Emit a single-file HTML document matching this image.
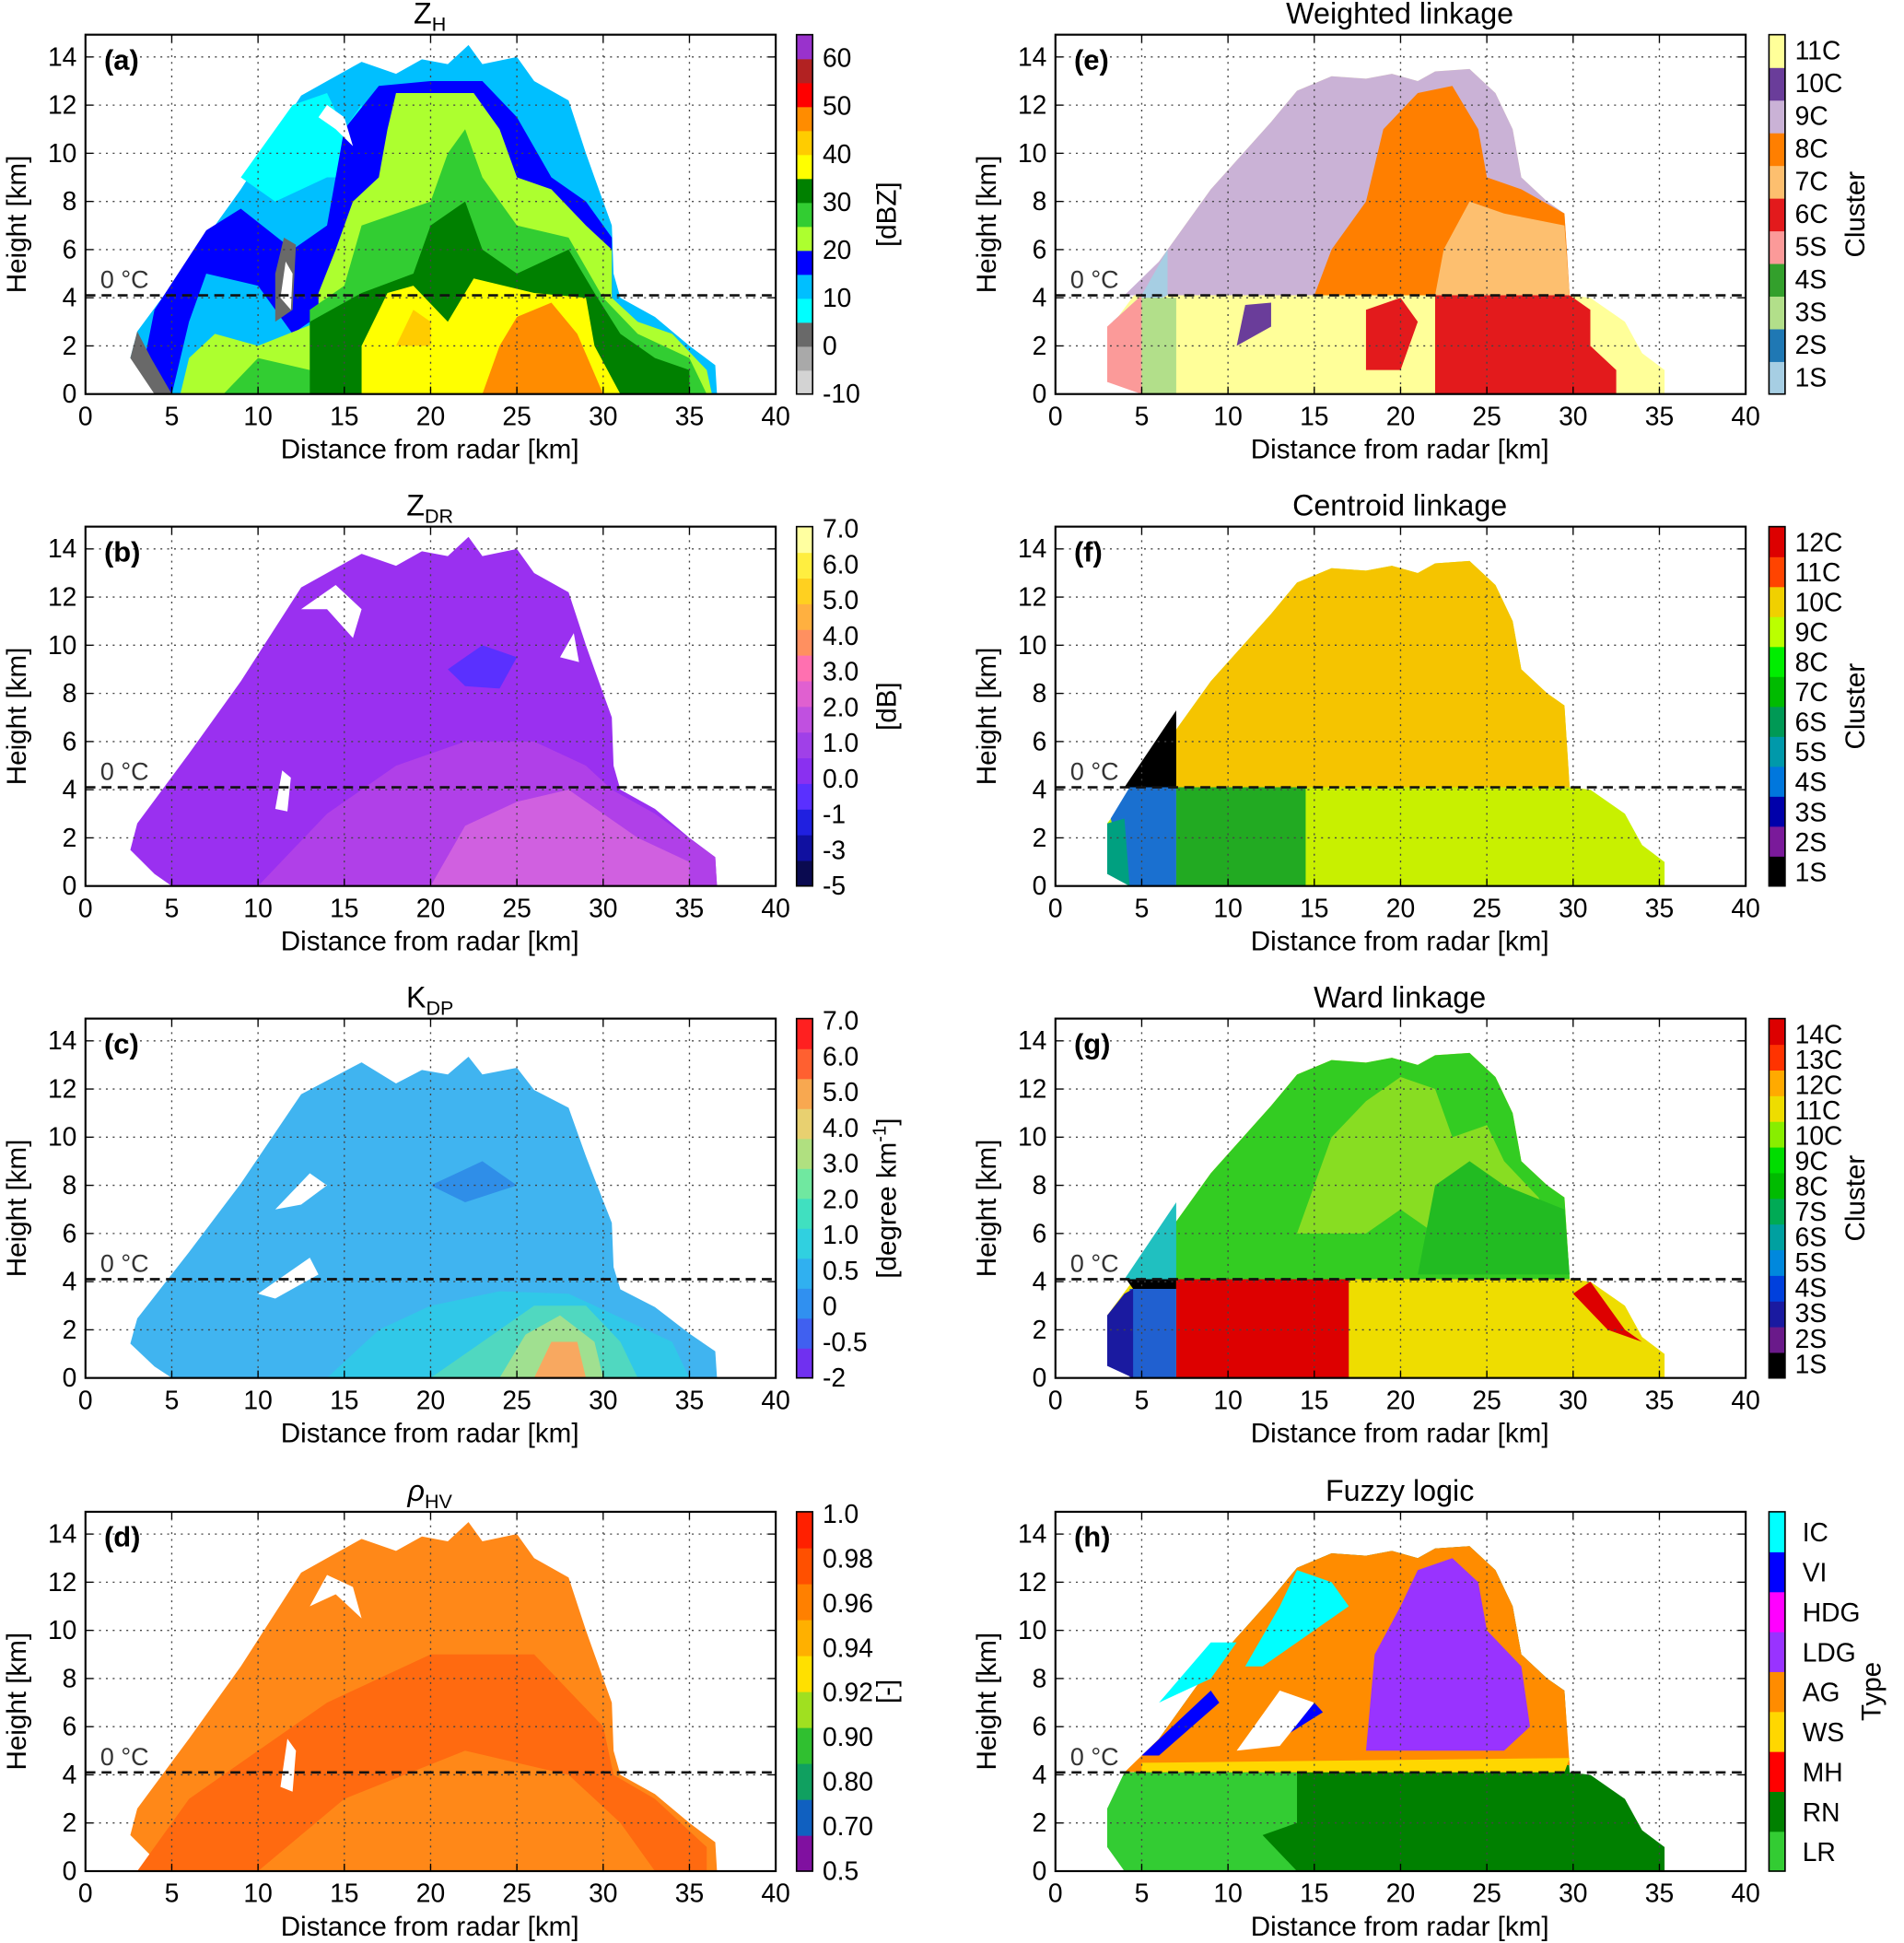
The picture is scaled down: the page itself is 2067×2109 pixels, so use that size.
<!DOCTYPE html>
<html><head><meta charset="utf-8"><style>
html,body{margin:0;padding:0;background:#fff;}
svg{display:block;font-family:"Liberation Sans","DejaVu Sans",sans-serif;}
</style></head><body>
<svg id="fig" xmlns="http://www.w3.org/2000/svg" width="2067" height="2109" viewBox="0 0 1537 1568" preserveAspectRatio="none"></svg>
<script>
// ---------- data ----------
const xTicks=[0,5,10,15,20,25,30,35,40];
const yTicks=[0,2,4,6,8,10,12,14];
const freezingLevel=4.1;
const envLeft=[[2.6,1.5],[3,2.6],[6,5.5],[9,8.5],[12.5,12.4],[14,13],[16,13.8],[18,13.3],[19.5,13.9],[21,13.7],[22.2,14.5],[23,13.7],[25,14],[26,13],[28,12.2],[29,10],[29.5,9],[30.5,7],[30.6,5],[31,4],[33,3.2],[35,2],[36.5,1.2],[36.6,0],[5,0],[4,0.5]];
const envRight=[[3,1.5],[3,2.6],[6,5.5],[9,8.5],[12.5,11.3],[14,12.6],[16,13.2],[18,13.1],[19.5,13.3],[21,13],[22,13.4],[24,13.5],[25.5,12.5],[26.5,11],[27,9],[28.5,8],[29.5,7.5],[29.8,4.1],[31,4],[33,3],[34,1.7],[35.3,1],[35.3,0],[5,0],[4,0.4]];
const regionsA=[
 {c:"#00bfff",p:envLeft},
 {c:"#00ffff",p:[[9,9],[12,12],[14,12.5],[15,11],[16,12],[16.5,9],[14,9],[11,8]]},
 {c:"#0000ff",p:[[3.3,1],[4,3.5],[7,6.8],[9,7.7],[12,6],[14,7],[15,11],[17,12.8],[20,13],[23,13],[25,11.5],[27,9],[29,8],[30.5,6.5],[30.5,4],[29,3],[14,3.5],[12,2.5],[10,4.5],[7,5],[6,3],[5,0]]},
 {c:"#adff2f",p:[[5.5,0],[6,1.5],[7.5,2.5],[10,2],[13.5,3],[13.5,4.2],[14.5,6],[15.5,8],[17,9],[17.5,11],[18,12.5],[22.5,12.5],[24,11],[25,9],[27,8.5],[29,7],[30.5,6],[30.5,4],[32,3],[34,2.5],[36,1],[36.3,0]]},
 {c:"#32cd32",p:[[8,0],[10,1.5],[13,1],[13,3.5],[15,4.5],[16,7],[18,7.5],[20,8],[21,10],[22,11],[23,9],[25,7],[28,6.5],[30,4],[32,2.5],[35,1.5],[36,0]]},
 {c:"#008000",p:[[13,0],[13,3],[16,4.2],[19,5],[20,7],[22,8],[23,6],[25,5],[28,6],[29.5,4.2],[31,2.5],[33,1.5],[35,1],[35,0]]},
 {c:"#ffff00",p:[[16,0],[16,2],[17.5,4.2],[19,4.5],[21,3],[22.5,4.8],[26,4.2],[29,4],[29.5,2],[31,0]]},
 {c:"#ffcc00",p:[[18,2],[19,3.5],[20,3],[20,2]]},
 {c:"#ff8c00",p:[[23,0],[24,2],[25,3.2],[27,3.8],[28.5,2.5],[30,0]]},
 {c:"#696969",p:[[2.6,1.5],[3,2.6],[3.8,1.5],[5,0],[4,0]]},
 {c:"#696969",p:[[11,5],[11.5,6.5],[12.2,6.2],[12,3.5],[11,3]]},
 {c:"#ffffff",p:[[11.3,4],[11.6,5.5],[12,5],[11.9,3.5]]},
 {c:"#ffffff",p:[[13.5,11.5],[14.5,11],[15.5,10.3],[15,11.5],[14,12]]}
];
const regionsB=[
 {c:"#9a30f0",p:envLeft},
 {c:"#b040e8",p:[[10,0],[14,3],[18,5],[22,6],[26,6],[29,5],[30.5,4],[33,3],[36.5,1.2],[36.6,0]]},
 {c:"#d060e0",p:[[20,0],[22,2.5],[25,3.5],[28,4],[30,3],[32,2],[35,1],[35,0]]},
 {c:"#5a30ff",p:[[21,9],[23,10],[25,9.5],[24,8.2],[22,8.3]]},
 {c:"#ffffff",p:[[11,3.2],[11.4,4.8],[11.9,4.5],[11.7,3.1]]},
 {c:"#ffffff",p:[[12.5,11.5],[14,11.5],[15.5,10.3],[16,11.5],[14.5,12.5]]},
 {c:"#ffffff",p:[[27.5,9.5],[28.3,10.5],[28.6,9.3]]}
];
const regionsC=[
 {c:"#40b4f0",p:envLeft.map(q=>[q[0],Math.min(q[1],q[0]<18?q[1]*0.95:q[1]*0.92)])},
 {c:"#30c8e8",p:[[14,0],[17,2],[20,3],[24,3.6],[28,3.5],[31,2.5],[34,1.5],[35,0]]},
 {c:"#50d8c0",p:[[20,0],[23,1.5],[26,3],[29,3],[31,1.5],[32,0]]},
 {c:"#a0e090",p:[[24,0],[25.5,1.8],[27.5,2.6],[29.5,1.5],[30,0]]},
 {c:"#f8a860",p:[[26,0],[27,1.5],[28.5,1.5],[29,0]]},
 {c:"#2f8ee8",p:[[20,8],[23,9],[25,8],[22,7.3]]},
 {c:"#ffffff",p:[[10,3.5],[13,5],[13.5,4.3],[11,3.3]]},
 {c:"#ffffff",p:[[11,7],[13,8.5],[14,8],[12.5,7.2]]}
];
const regionsD=[
 {c:"#ff8818",p:envLeft},
 {c:"#ff6a10",p:[[3,0],[6,3],[10,5],[14,7],[20,9],[26,9],[30,6],[30.6,4],[33,3],[36,1],[36,0]]},
 {c:"#ff8818",p:[[10,0],[15,3],[22,5],[28,4],[31,2],[33,0]]},
 {c:"#ffffff",p:[[11.3,3.5],[11.7,5.5],[12.2,5],[12,3.3]]},
 {c:"#ffffff",p:[[13,11],[14.5,11.5],[16,10.5],[15.5,11.8],[14,12.3]]}
];
const upperRight=[[4,4.1],[6,5.5],[9,8.5],[12.5,11.3],[14,12.6],[16,13.2],[18,13.1],[19.5,13.3],[21,13],[22,13.4],[24,13.5],[25.5,12.5],[26.5,11],[27,9],[28.5,8],[29.5,7.5],[29.8,4.1]];
const regionsE=[
 {c:"#ffff99",p:envRight},
 {c:"#cab2d6",p:upperRight},
 {c:"#ff7f00",p:[[15,4.1],[16,6],[18,8],[19,11],[21,12.5],[23,12.8],[24.5,11],[25,9],[27,8.5],[29.5,7.5],[29.8,4.1]]},
 {c:"#fdbf6f",p:[[22,4.1],[22.5,6],[24,8],[26,7.5],[29.5,7],[29.8,4.1]]},
 {c:"#a6cee3",p:[[3.3,3],[5,4.1],[6.5,6],[6.5,4.1]]},
 {c:"#fb9a99",p:[[3,0.5],[3,2.8],[5,4.1],[5,0]]},
 {c:"#b2df8a",p:[[5,0],[5,4],[7,4],[7,0]]},
 {c:"#e31a1c",p:[[22,0],[22,4.1],[29.8,4.1],[31,3.5],[31,2],[32.5,1],[32.5,0]]},
 {c:"#e31a1c",p:[[18,1],[18,3.5],[20,4],[21,3],[20,1]]},
 {c:"#6a3d9a",p:[[10.5,2],[11,3.7],[12.5,3.8],[12.5,2.8]]}
];
const regionsF=[
 {c:"#c8f000",p:envRight},
 {c:"#f5c400",p:upperRight},
 {c:"#000000",p:[[4,4.1],[7,7.3],[7,4.1]]},
 {c:"#22aa22",p:[[7,0],[7,4.1],[14.5,4.1],[14.5,0]]},
 {c:"#1a70d0",p:[[4.3,0],[3.2,2.8],[4.3,4.1],[7,4.1],[7,0]]},
 {c:"#00a080",p:[[3,0.5],[3,2.6],[4,2.8],[4.3,0]]}
];
const regionsG=[
 {c:"#eedd00",p:envRight},
 {c:"#33cc22",p:upperRight},
 {c:"#88dd22",p:[[14,6],[16,10],[18,11.5],[20,12.5],[22,12],[23,10],[25,10.5],[26,9],[28,7.5],[29,6],[26,5],[22,6],[20,7],[18,6]]},
 {c:"#22bb22",p:[[21,4.3],[22,8],[24,9],[26,8],[29.5,7],[29.8,4.3]]},
 {c:"#20c0c0",p:[[4,4.1],[7,7.3],[7,4.1]]},
 {c:"#000000",p:[[4.1,4.1],[7,4.1],[7,3.7],[4.5,3.7]]},
 {c:"#dd0000",p:[[7,0],[7,4.1],[17,4.1],[17,0]]},
 {c:"#2060d0",p:[[4.3,0],[4.3,3.7],[7,3.7],[7,0]]},
 {c:"#1a1aa0",p:[[3,0.5],[3,2.6],[4,3.5],[4.5,3.7],[4.5,0]]},
 {c:"#dd0000",p:[[30,3.5],[31,4],[33,2],[34,1.5],[32,2]]}
];
const regionsH=[
 {c:"#008000",p:envRight},
 {c:"#33cc33",p:[[3,1],[3,2.6],[4,4.1],[14,4.1],[14,2],[12,1.5],[14,0],[4,0]]},
 {c:"#ff8c00",p:[[4,4.1],[6,5.5],[9,8.5],[12.5,11.3],[14,12.6],[16,13.2],[18,13.1],[19.5,13.3],[21,13],[22,13.4],[24,13.5],[25.5,12.5],[26.5,11],[27,9],[28.5,8],[29.5,7.5],[29.8,4.4],[16,4.4]]},
 {c:"#9933ff",p:[[18,5],[18.5,9],[20,11],[21,12.5],[23,13],[24.5,12],[25,10],[27,8.5],[27.5,6],[26,5]]},
 {c:"#00ffff",p:[[11,8.5],[13,11],[14,12.5],[16,12],[17,11],[14,9.5],[12,8.5]]},
 {c:"#00ffff",p:[[6,7],[9,9.5],[10.5,9.5],[9,8]]},
 {c:"#0000ff",p:[[5,4.8],[9,7.5],[9.5,7],[6,4.8]]},
 {c:"#0000ff",p:[[13,6],[15,7],[15.5,6.6],[13.5,5.7]]},
 {c:"#ffd700",p:[[5,4.1],[29.5,4.1],[29.8,4.7],[5,4.5]]},
 {c:"#ffffff",p:[[10.5,5],[13,7.5],[15,7],[13,5.2]]}
];
const cbA={c:["#d3d3d3","#a9a9a9","#696969","#00ffff","#00bfff","#0000ff","#adff2f","#32cd32","#008000","#ffff00","#ffcc00","#ff8c00","#ff0000","#b22222","#9932cc"],l:["60","50","40","30","20","10","0","-10"],t:"[dBZ]"};
const cbB={c:["#0a0a50","#1010a0","#2020e0","#5a30ff","#8a30f0","#a040e8","#c050e0","#e060d0","#ff70b0","#ff9060","#ffb040","#ffd020","#ffee40","#ffffa0"],l:["7.0","6.0","5.0","4.0","3.0","2.0","1.0","0.0","-1","-3","-5"],t:"[dB]"};
const cbC={c:["#7030f0","#4060f0","#3090f0","#30b0f0","#30d0e0","#40e0c0","#70e8a0","#b0e080","#e8d070","#f8a850","#ff6030","#ff2020"],l:["7.0","6.0","5.0","4.0","3.0","2.0","1.0","0.5","0","-0.5","-2"],t:"[degree km"};
const cbD={c:["#8010a0","#1060c0","#10a060","#30c030","#a0e020","#ffe000","#ffb000","#ff8000","#ff5000","#ff2000"],l:["1.0","0.98","0.96","0.94","0.92","0.90","0.80","0.70","0.5"],t:"[-]"};
const cbE={c:["#a6cee3","#1f78b4","#b2df8a","#33a02c","#fb9a99","#e31a1c","#fdbf6f","#ff7f00","#cab2d6","#6a3d9a","#ffff99"],l:["11C","10C","9C","8C","7C","6C","5S","4S","3S","2S","1S"],t:"Cluster"};
const cbF={c:["#000000","#7a1a9a","#0000aa","#0077dd","#0099aa","#009955","#00bb00","#00ee00","#bbff00","#f0d000","#ff4400","#dd0000"],l:["12C","11C","10C","9C","8C","7C","6S","5S","4S","3S","2S","1S"],t:"Cluster"};
const cbG={c:["#000000","#6a1a8a","#1a1aa0","#0040dd","#0088dd","#00a0a0","#00aa55","#00bb00","#00dd00","#88ee00","#eedd00","#ffaa00","#ff3300","#dd0000"],l:["14C","13C","12C","11C","10C","9C","8C","7S","6S","5S","4S","3S","2S","1S"],t:"Cluster"};
const cbH={c:["#33cc33","#008000","#ff0000","#ffd700","#ff8c00","#9933ff","#ff00ff","#0000ff","#00ffff"],l:["IC","VI","HDG","LDG","AG","WS","MH","RN","LR"],t:"Type"};

// ---------- drawing ----------
const NS="http://www.w3.org/2000/svg";
const svg=document.getElementById('fig');
function mk(tag,at,parent){const e=document.createElementNS(NS,tag);for(const k in at)e.setAttribute(k,at[k]);(parent||svg).appendChild(e);return e;}
const SX=13.93, SY=19.43;
function panel(ox,oy,letter,title,sub,regions,cb,cbx,idx){
  const g=mk('g',{});
  
  
  const X=d=>ox+d*SX, Y=h=>oy-h*SY;
  const top=oy-290, right=ox+40*SX;
  const clip=mk('clipPath',{id:'cl'+letter},g);
  mk('rect',{x:ox,y:top,width:right-ox,height:290},clip);
  const fld=mk('g',{'clip-path':'url(#cl'+letter+')'},g);
  regions.forEach((r,i)=>{
    const p=mk('polygon',{points:r.p.map(q=>X(q[0]).toFixed(1)+','+Y(q[1]).toFixed(1)).join(' '),fill:r.c},fld);
    
    
  });
  xTicks.forEach(t=>{ if(t>0&&t<40) mk('line',{x1:X(t),x2:X(t),y1:top,y2:oy,stroke:'#444','stroke-width':1,'stroke-dasharray':'1.5,4'},g);});
  yTicks.forEach(t=>{ if(t>0) mk('line',{x1:ox,x2:right,y1:Y(t),y2:Y(t),stroke:'#444','stroke-width':1,'stroke-dasharray':'1.5,4'},g);});
  const fl=mk('line',{x1:ox,x2:right,y1:Y(freezingLevel),y2:Y(freezingLevel),stroke:'#111','stroke-width':2,'stroke-dasharray':'8,5'},g);
  
  
  const fz=mk('text',{x:ox+12,y:Y(freezingLevel)-6,'font-size':20,fill:'#333'},g);fz.textContent='0 °C';
  mk('rect',{x:ox,y:top,width:right-ox,height:290,fill:'none',stroke:'#000','stroke-width':1.6},g);
  xTicks.forEach(t=>{
    mk('line',{x1:X(t),x2:X(t),y1:oy,y2:oy-6,stroke:'#000'},g);
    mk('line',{x1:X(t),x2:X(t),y1:top,y2:top+6,stroke:'#000'},g);
    const tx=mk('text',{x:X(t),y:oy+25,'font-size':21,'text-anchor':'middle'},g);tx.textContent=t;
    
    
  });
  yTicks.forEach(t=>{
    mk('line',{x1:ox,x2:ox+6,y1:Y(t),y2:Y(t),stroke:'#000'},g);
    mk('line',{x1:right,x2:right-6,y1:Y(t),y2:Y(t),stroke:'#000'},g);
    const ty=mk('text',{x:ox-7,y:Y(t)+7,'font-size':21,'text-anchor':'end'},g);ty.textContent=t;
    
    
  });
  const xl=mk('text',{x:ox+278,y:oy+52,'font-size':22,'text-anchor':'middle'},g);xl.textContent='Distance from radar [km]';
  
  
  const yl=mk('text',{x:0,y:0,'font-size':22,'text-anchor':'middle',transform:`translate(${ox-48},${oy-137}) rotate(-90)`},g);yl.textContent='Height [km]';
  
  
  const pl=mk('text',{x:ox+15,y:top+28,'font-size':23,'font-weight':'bold'},g);pl.textContent='('+letter+')';
  
  
  const tt=mk('text',{x:ox+278,y:top-9,'font-size':24,'text-anchor':'middle'},g);
  
  
  if(sub){
    const a=mk('tspan',{'font-style':title==='ρ'?'italic':'normal'},tt);a.textContent=title;
    const b=mk('tspan',{'font-size':16,dy:6},tt);b.textContent=sub;
  } else tt.textContent=title;
  const n=cb.c.length, h=290/n;
  const cg=mk('g',{},g);
  
  
  cb.c.forEach((c,i)=>mk('rect',{x:cbx,y:oy-(i+1)*h,width:13,height:h+0.5,fill:c},cg));
  mk('rect',{x:cbx,y:top,width:13,height:290,fill:'none',stroke:'#000','stroke-width':1.2},cg);
  const nl=cb.l.length;
  let y0,y1;
  if(idx===0){y0=top+18;y1=oy-1;}
  else if(idx===4){y0=top+12;y1=oy-14;}
  else if(idx===5||idx===6){y0=top+12;y1=oy-12;}
  else if(idx===7){y0=top+16;y1=oy-16;}
  else {y0=top+1;y1=oy-1;}
  cb.l.forEach((s,i)=>{
    const yy=y0+(y1-y0)*i/(nl-1);
    const t=mk('text',{x:cbx+(idx===7?27:21),y:yy+8,'font-size':21},cg);t.textContent=s;
    
    
  });
  const tx=cbx+(cbx>1000?(idx===7?90:77):80);
  const ct=mk('text',{x:0,y:0,'font-size':22,'text-anchor':'middle',transform:`translate(${tx},${oy-145}) rotate(-90)`},cg);
  
  
  if(cb.t==='[degree km'){ct.textContent='[degree km';const s=mk('tspan',{'font-size':15,dy:-8},ct);s.textContent='-1';const s2=mk('tspan',{dy:8},ct);s2.textContent=']';}
  else ct.textContent=cb.t;
}
const OY=[318,715,1112,1510];
panel(69,OY[0],'a','Z','H',regionsA,cbA,643,0);
panel(69,OY[1],'b','Z','DR',regionsB,cbB,643,1);
panel(69,OY[2],'c','K','DP',regionsC,cbC,643,2);
panel(69,OY[3],'d','ρ','HV',regionsD,cbD,643,3);
panel(852,OY[0],'e','Weighted linkage',null,regionsE,cbE,1428,4);
panel(852,OY[1],'f','Centroid linkage',null,regionsF,cbF,1428,5);
panel(852,OY[2],'g','Ward linkage',null,regionsG,cbG,1428,6);
panel(852,OY[3],'h','Fuzzy logic',null,regionsH,cbH,1428,7);
</script>
</body></html>
